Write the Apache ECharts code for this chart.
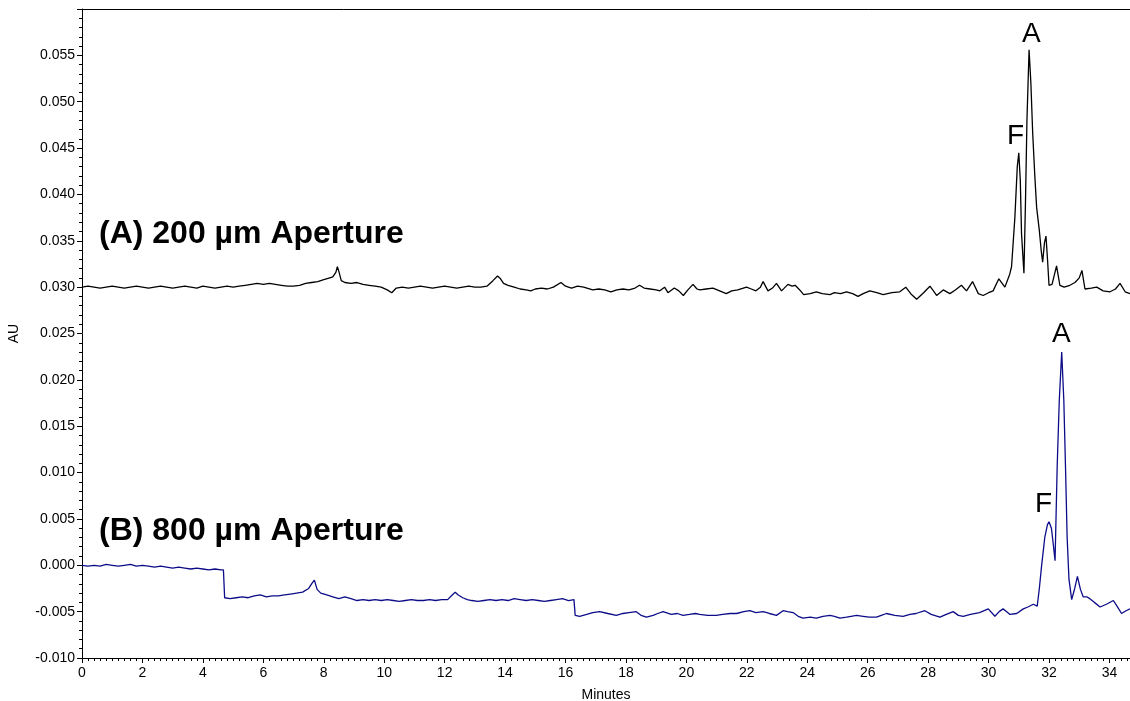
<!DOCTYPE html>
<html>
<head>
<meta charset="utf-8">
<title>Chromatogram</title>
<script src="https://cdn.jsdelivr.net/npm/echarts@6/dist/echarts.min.js"></script>
<style>
  html, body { margin: 0; padding: 0; background: #fff; }
  #chart { width: 1130px; height: 701px; }
</style>
</head>
<body>
<div id="chart"></div>
<script>
// trace (A) 200 um aperture, minutes / AU
var timeA = [0.0, 0.2, 0.4, 0.6, 0.8, 1.0, 1.2, 1.4, 1.6, 1.8, 2.0, 2.2, 2.4, 2.6, 2.8, 3.0, 3.2, 3.4, 3.6, 3.8,
  4.0, 4.2, 4.4, 4.6, 4.8, 5.0, 5.2, 5.4, 5.6, 5.8, 6.0, 6.2, 6.4, 6.6, 6.8, 7.0, 7.2, 7.4, 7.6, 7.8,
  8.0, 8.2, 8.3, 8.4, 8.45, 8.5, 8.58, 8.7, 8.9, 9.1, 9.3, 9.5, 9.7, 9.9, 10.1, 10.25, 10.4, 10.6, 10.8, 11.0,
  11.2, 11.4, 11.6, 11.8, 12.0, 12.2, 12.4, 12.6, 12.8, 13.0, 13.2, 13.4, 13.6, 13.75, 13.85, 13.95, 14.1, 14.3, 14.5, 14.7,
  14.85, 15.0, 15.2, 15.4, 15.6, 15.85, 16.0, 16.2, 16.4, 16.6, 16.9, 17.1, 17.3, 17.5, 17.7, 17.9, 18.1, 18.3, 18.45, 18.6,
  18.8, 19.0, 19.12, 19.28, 19.39, 19.6, 19.75, 19.9, 20.05, 20.22, 20.35, 20.45, 20.65, 20.88, 21.1, 21.32, 21.5, 21.7, 21.99, 22.15,
  22.3, 22.45, 22.54, 22.7, 22.85, 22.98, 23.15, 23.36, 23.5, 23.6, 23.75, 23.88, 24.1, 24.3, 24.5, 24.75, 24.9, 25.1, 25.3, 25.5,
  25.68, 25.85, 26.07, 26.3, 26.51, 26.8, 27.06, 27.26, 27.45, 27.62, 27.85, 28.06, 28.2, 28.28, 28.5, 28.72, 28.9, 29.1, 29.27, 29.47,
  29.66, 29.82, 30.0, 30.15, 30.34, 30.54, 30.7, 30.76, 30.87, 30.95, 31.0, 31.05, 31.09, 31.17, 31.22, 31.27, 31.34, 31.4, 31.46, 31.53,
  31.59, 31.68, 31.74, 31.79, 31.85, 31.9, 31.95, 32.0, 32.1, 32.25, 32.36, 32.5, 32.69, 32.86, 33.0, 33.09, 33.19, 33.4, 33.58, 33.79,
  34.02, 34.2, 34.35, 34.52, 34.68];
var auA = [0.0300, 0.0301, 0.0300, 0.0299, 0.0300, 0.0301, 0.0300, 0.0299, 0.0300, 0.0301, 0.0300, 0.0299, 0.0300, 0.0301, 0.0300, 0.0299, 0.0300, 0.0301, 0.0300, 0.0299,
  0.0301, 0.0300, 0.0299, 0.0300, 0.0301, 0.0300, 0.0301, 0.0302, 0.0303, 0.0304, 0.0303, 0.0304, 0.0303, 0.0302, 0.0301, 0.0301, 0.0302, 0.0304, 0.0305, 0.0306,
  0.0308, 0.0310, 0.0311, 0.0316, 0.0322, 0.0317, 0.0307, 0.0305, 0.0304, 0.0305, 0.0303, 0.0302, 0.0301, 0.0300, 0.0297, 0.0294, 0.0299, 0.0300, 0.0299, 0.0300,
  0.0301, 0.0300, 0.0299, 0.0300, 0.0301, 0.0300, 0.0299, 0.0300, 0.0301, 0.0300, 0.0300, 0.0301, 0.0307, 0.0312, 0.0309, 0.0304, 0.0302, 0.0300, 0.0298, 0.0297,
  0.0296, 0.0298, 0.0299, 0.0298, 0.0300, 0.0305, 0.0301, 0.0299, 0.0301, 0.0300, 0.0297, 0.0298, 0.0297, 0.0295, 0.0297, 0.0298, 0.0297, 0.0299, 0.0302, 0.0299,
  0.0298, 0.0297, 0.0296, 0.0300, 0.0294, 0.0299, 0.0296, 0.0291, 0.0297, 0.0303, 0.0298, 0.0297, 0.0298, 0.0299, 0.0296, 0.0293, 0.0296, 0.0297, 0.0300, 0.0298,
  0.0296, 0.0300, 0.0306, 0.0296, 0.0299, 0.0304, 0.0296, 0.0303, 0.0301, 0.0302, 0.0297, 0.0292, 0.0293, 0.0295, 0.0293, 0.0292, 0.0294, 0.0293, 0.0295, 0.0293,
  0.0290, 0.0293, 0.0296, 0.0294, 0.0292, 0.0294, 0.0295, 0.0300, 0.0292, 0.0287, 0.0294, 0.0301, 0.0295, 0.0291, 0.0297, 0.0293, 0.0297, 0.0302, 0.0296, 0.0306,
  0.0293, 0.0291, 0.0294, 0.0296, 0.0309, 0.0300, 0.0314, 0.0322, 0.0375, 0.0430, 0.0445, 0.0415, 0.0358, 0.0315, 0.0390, 0.0480, 0.0556, 0.0520, 0.0466, 0.0420,
  0.0386, 0.0361, 0.0340, 0.0327, 0.0348, 0.0355, 0.0330, 0.0302, 0.0303, 0.0323, 0.0302, 0.0300, 0.0302, 0.0305, 0.0310, 0.0318, 0.0298, 0.0299, 0.0300, 0.0296,
  0.0295, 0.0298, 0.0304, 0.0295, 0.0293];

// trace (B) 800 um aperture
var timeB = [0.0, 0.2, 0.4, 0.6, 0.8, 1.0, 1.2, 1.4, 1.6, 1.8, 2.0, 2.2, 2.4, 2.6, 2.8, 3.0, 3.2, 3.4, 3.6, 3.8,
  4.0, 4.2, 4.4, 4.6, 4.68, 4.72, 4.9, 5.1, 5.3, 5.5, 5.7, 5.9, 6.1, 6.3, 6.5, 6.7, 6.9, 7.1, 7.3, 7.5,
  7.62, 7.69, 7.78, 7.9, 8.1, 8.3, 8.5, 8.7, 8.9, 9.1, 9.3, 9.5, 9.7, 9.9, 10.1, 10.3, 10.5, 10.7, 10.9, 11.1,
  11.3, 11.5, 11.7, 11.9, 12.1, 12.25, 12.35, 12.45, 12.6, 12.75, 12.9, 13.1, 13.3, 13.5, 13.7, 13.9, 14.1, 14.3, 14.5, 14.7,
  14.9, 15.1, 15.3, 15.5, 15.7, 15.9, 16.1, 16.28, 16.32, 16.47, 16.7, 16.9, 17.13, 17.4, 17.68, 17.9, 18.1, 18.34, 18.5, 18.68,
  18.9, 19.05, 19.23, 19.5, 19.7, 19.89, 20.1, 20.3, 20.44, 20.7, 20.99, 21.2, 21.45, 21.66, 21.9, 22.1, 22.3, 22.54, 22.75, 22.98,
  23.2, 23.35, 23.53, 23.7, 23.86, 24.1, 24.3, 24.52, 24.75, 24.9, 25.08, 25.3, 25.45, 25.63, 25.85, 26.05, 26.29, 26.45, 26.62, 26.9,
  27.17, 27.4, 27.6, 27.89, 28.1, 28.39, 28.6, 28.83, 29.0, 29.16, 29.4, 29.7, 29.99, 30.21, 30.35, 30.48, 30.6, 30.71, 30.93, 31.15,
  31.3, 31.48, 31.61, 31.68, 31.75, 31.86, 31.95, 32.0, 32.08, 32.15, 32.2, 32.27, 32.34, 32.42, 32.49, 32.55, 32.6, 32.66, 32.75, 32.85,
  32.94, 33.04, 33.13, 33.25, 33.35, 33.5, 33.69, 33.9, 34.13, 34.25, 34.4, 34.55, 34.68];
var auB = [0.0000, -0.0001, 0.0000, -0.0001, 0.0001, 0.0000, -0.0001, 0.0000, 0.0001, -0.0001, 0.0000, -0.0001, -0.0002, -0.0001, -0.0002, -0.0003, -0.0002, -0.0003, -0.0004, -0.0003,
  -0.0004, -0.0005, -0.0004, -0.0005, -0.0005, -0.0035, -0.0036, -0.0035, -0.0034, -0.0035, -0.0033, -0.0032, -0.0034, -0.0033, -0.0033, -0.0032, -0.0031, -0.0030, -0.0029, -0.0025,
  -0.0019, -0.0016, -0.0026, -0.0030, -0.0032, -0.0034, -0.0036, -0.0034, -0.0036, -0.0038, -0.0037, -0.0038, -0.0037, -0.0038, -0.0037, -0.0038, -0.0039, -0.0038, -0.0037, -0.0038,
  -0.0038, -0.0037, -0.0038, -0.0037, -0.0037, -0.0032, -0.0029, -0.0032, -0.0035, -0.0037, -0.0038, -0.0039, -0.0038, -0.0037, -0.0038, -0.0037, -0.0038, -0.0036, -0.0037, -0.0038,
  -0.0037, -0.0038, -0.0039, -0.0038, -0.0037, -0.0036, -0.0038, -0.0037, -0.0054, -0.0055, -0.0053, -0.0051, -0.0050, -0.0052, -0.0054, -0.0052, -0.0051, -0.0050, -0.0054, -0.0056,
  -0.0054, -0.0052, -0.0050, -0.0053, -0.0052, -0.0054, -0.0053, -0.0052, -0.0053, -0.0054, -0.0054, -0.0053, -0.0052, -0.0052, -0.0050, -0.0049, -0.0051, -0.0050, -0.0052, -0.0054,
  -0.0049, -0.0050, -0.0051, -0.0055, -0.0057, -0.0056, -0.0057, -0.0055, -0.0054, -0.0055, -0.0057, -0.0056, -0.0055, -0.0054, -0.0055, -0.0056, -0.0056, -0.0054, -0.0052, -0.0054,
  -0.0055, -0.0053, -0.0052, -0.0049, -0.0053, -0.0056, -0.0053, -0.0050, -0.0054, -0.0055, -0.0053, -0.0051, -0.0047, -0.0055, -0.0050, -0.0047, -0.0050, -0.0053, -0.0052, -0.0047,
  -0.0045, -0.0042, -0.0044, -0.0025, -0.0002, 0.0030, 0.0044, 0.0047, 0.0040, 0.0020, 0.0005, 0.0106, 0.0178, 0.0230, 0.0178, 0.0100, 0.0030, -0.0015, -0.0037, -0.0025,
  -0.0012, -0.0026, -0.0034, -0.0034, -0.0036, -0.0040, -0.0045, -0.0042, -0.0038, -0.0044, -0.0052, -0.0049, -0.0047];

var xMin = 0, xMax = 34.68, xStep = 2;
var yMin = -0.010, yMax = 0.060, yStep = 0.005;

var font = '"Liberation Sans", Arial, Helvetica, sans-serif';

function pairs (xs, ys) {
  return xs.map(function (x, i) { return [x, ys[i]]; });
}

var chart = echarts.init(document.getElementById('chart'));
chart.setOption({
  animation: false,
  backgroundColor: '#fff',
  textStyle: { fontFamily: font },
  grid: { left: 82, right: 0, top: 9, bottom: 43, containLabel: false, outerBoundsMode: 'none' },
  xAxis: [{
    type: 'value',
    min: xMin,
    max: xMax,
    interval: xStep,
    name: 'Minutes',
    nameLocation: 'middle',
    nameGap: 30,
    nameTextStyle: { color: '#000', fontSize: 14, fontFamily: font },
    axisLine: { onZero: false, lineStyle: { color: '#000', width: 1 } },
    axisTick: { length: 5, lineStyle: { color: '#000' } },
    minorTick: { show: true, splitNumber: 10, length: 3, lineStyle: { color: '#000' } },
    axisLabel: { color: '#000', fontSize: 14, margin: 8, fontFamily: font },
    splitLine: { show: false }
  }, {
    type: 'value',
    position: 'top',
    min: xMin,
    max: xMax,
    axisLine: { show: true, onZero: false, lineStyle: { color: '#000', width: 1 } },
    axisTick: { show: false },
    axisLabel: { show: false },
    splitLine: { show: false }
  }],
  yAxis: {
    type: 'value',
    min: yMin,
    max: yMax,
    interval: yStep,
    name: 'AU',
    nameLocation: 'middle',
    nameGap: 61,
    nameTextStyle: { color: '#000', fontSize: 14, fontFamily: font },
    axisLine: { show: true, onZero: false, lineStyle: { color: '#000', width: 1 } },
    axisTick: { show: true, length: 5, lineStyle: { color: '#000' } },
    minorTick: { show: true, splitNumber: 5, length: 3, lineStyle: { color: '#000' } },
    axisLabel: {
      color: '#000', fontSize: 14, margin: 7, fontFamily: font, showMaxLabel: false,
      formatter: function (v) { return v.toFixed(3); }
    },
    splitLine: { show: false }
  },
  series: [{
    name: '(A) 200 µm Aperture',
    type: 'line',
    showSymbol: false,
    data: pairs(timeA, auA),
    lineStyle: { color: '#000', width: 1.3 },
    itemStyle: { color: '#000' }
  }, {
    name: '(B) 800 µm Aperture',
    type: 'line',
    showSymbol: false,
    data: pairs(timeB, auB),
    lineStyle: { color: '#0c0c88', width: 1.3 },
    itemStyle: { color: '#0c0c88' }
  }],
  graphic: [
    { type: 'text', left: 99, top: 218, style: { text: '(A) 200 µm Aperture', font: 'bold 32px ' + font, fill: '#000' } },
    { type: 'text', left: 99, top: 515, style: { text: '(B) 800 µm Aperture', font: 'bold 32px ' + font, fill: '#000' } },
    { type: 'text', left: 1022, top: 20, style: { text: 'A', font: '28px ' + font, fill: '#000' } },
    { type: 'text', left: 1007, top: 122, style: { text: 'F', font: '28px ' + font, fill: '#000' } },
    { type: 'text', left: 1052, top: 320, style: { text: 'A', font: '28px ' + font, fill: '#000' } },
    { type: 'text', left: 1035, top: 490, style: { text: 'F', font: '28px ' + font, fill: '#000' } }
  ]
});
</script>
</body>
</html>
